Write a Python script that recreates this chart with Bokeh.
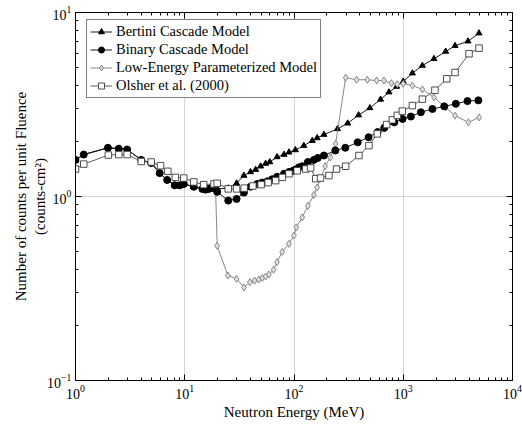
from bokeh.plotting import figure
from bokeh.models import (Range1d, LogAxis, FixedTicker, Legend, LegendItem,
                          CustomJSTickFormatter, LogTickFormatter)
from bokeh.embed import file_html
from bokeh.resources import INLINE

# ---- data ----
bertini_e = [1.0, 1.19, 1.98, 2.49, 2.97, 4.0, 4.93, 5.9, 6.9, 8.1, 9.0, 9.8, 12.1, 14.5, 15.5,
             16.6, 18.5, 19.8, 25, 29.8, 34.8, 40, 44.5, 49.5, 55, 60, 70, 81, 90, 103, 123,
             147, 163, 188, 250, 310, 390, 495, 620, 740, 870, 1000, 1212, 1496, 1910, 2445,
             2980, 3915, 4935]
bertini_v = [1.58, 1.69, 1.84, 1.82, 1.80, 1.58, 1.52, 1.34, 1.23, 1.15, 1.15, 1.17, 1.13, 1.10, 1.09,
             1.10, 1.11, 1.10, 1.11, 1.18, 1.30, 1.36, 1.40, 1.46, 1.51, 1.54, 1.64, 1.69, 1.74, 1.79, 1.89,
             2.01, 2.08, 2.17, 2.33, 2.50, 2.77, 3.03, 3.37, 3.69, 3.96, 4.22, 4.68, 5.15, 5.60, 6.14,
             6.59, 6.98, 7.72]

binary_e = [1.0, 1.19, 1.98, 2.49, 2.97, 4.0, 4.93, 5.9, 6.9, 8.1, 9.0, 9.8, 12.1, 14.5, 15.5,
            16.6, 18.5, 19.8, 25, 29.8, 34.8, 40, 46, 51, 57, 63, 70, 81, 90, 98, 103, 111, 119,
            134, 152, 165, 188, 239, 295, 383, 482, 583, 670, 828, 986, 1175, 1450, 1850, 2370,
            3030, 3870, 4870]
binary_v = [1.58, 1.69, 1.84, 1.82, 1.80, 1.58, 1.52, 1.34, 1.23, 1.15, 1.15, 1.17, 1.13, 1.10, 1.09,
            1.10, 1.11, 1.06, 0.95, 0.97, 1.05, 1.13, 1.17, 1.19, 1.21, 1.24, 1.28, 1.33, 1.36, 1.38, 1.40, 1.44, 1.46,
            1.54, 1.58, 1.62, 1.67, 1.78, 1.84, 1.97, 2.10, 2.24, 2.36, 2.53, 2.64, 2.72, 2.87, 2.99, 3.09,
            3.19, 3.30, 3.33]

lowe_e = [1.0, 1.19, 1.98, 2.49, 2.97, 4.0, 4.93, 5.9, 6.9, 8.1, 9.0, 9.8, 12.1, 14.5, 15.5,
          16.6, 18.5, 19.1, 19.8, 24.8, 29.8, 34.8, 39.5, 43.6, 47.7, 51.3, 55, 59, 65, 70, 78, 90,
          100, 105, 119, 134, 152, 163, 175, 193, 215, 240, 297, 374, 469, 571, 666, 778, 883,
          1000, 1212, 1496, 1910, 2445, 2980, 3950, 4950]
lowe_v = [1.58, 1.69, 1.84, 1.82, 1.80, 1.58, 1.52, 1.34, 1.23, 1.15, 1.15, 1.17, 1.13, 1.10, 1.09,
          1.10, 1.11, 1.17, 0.54, 0.372, 0.357, 0.321, 0.342, 0.349, 0.354, 0.361, 0.367, 0.377, 0.40, 0.44, 0.50, 0.553,
          0.614, 0.68, 0.77, 0.89, 1.02, 1.12, 1.25, 1.46, 1.63, 1.93, 4.42, 4.31, 4.31, 4.27, 4.27, 4.13, 4.08,
          4.10, 4.01, 3.82, 3.46, 3.05, 2.75, 2.53, 2.69]

olsher_e = [1.0, 1.19, 2.0, 2.49, 2.97, 4.0, 4.93, 6.0, 7.0, 8.2, 9.8, 12.1, 14.9, 18.5, 19.8,
            25, 29.8, 35, 42, 50, 58, 68, 78, 90, 107, 128, 142, 158, 175, 209, 245, 297, 393,
            485, 579, 705, 795, 883, 981, 1212, 1496, 1950, 2500, 2980, 4000, 4935]
olsher_v = [1.41, 1.50, 1.68, 1.69, 1.69, 1.55, 1.54, 1.47, 1.37, 1.27, 1.26, 1.20, 1.16, 1.17, 1.18,
            1.10, 1.10, 1.11, 1.14, 1.16, 1.19, 1.22, 1.27, 1.33, 1.38, 1.41, 1.43, 1.25, 1.26, 1.30, 1.41, 1.46, 1.67,
            1.89, 2.19, 2.46, 2.61, 2.76, 2.91, 3.12, 3.38, 3.78, 4.36, 4.72, 5.97, 6.40]

labels = ["Bertini Cascade Model", "Binary Cascade Model",
          "Low-Energy Parameterized Model", "Olsher et al. (2000)"]

x_decades = [0, 1, 2, 3, 4]
y_decades = [-1, 0, 1]

FONT = "Liberation Serif"


def decade_ticker(decs):
    majors = [10.0 ** d for d in decs]
    minors = [k * 10.0 ** d for d in decs[:-1] for k in range(2, 10)]
    return FixedTicker(ticks=majors, minor_ticks=minors)


p = figure(width=522, height=424, x_axis_type="log", y_axis_type="log",
           x_range=Range1d(1, 1e4), y_range=Range1d(0.1, 10),
           output_backend="svg", toolbar_location=None,
           min_border_left=75, min_border_right=10, min_border_top=12, min_border_bottom=44)
p.background_fill_color = "white"
p.border_fill_color = "white"
p.outline_line_color = "black"
p.outline_line_width = 1

p.xaxis.ticker = decade_ticker(x_decades)
p.yaxis.ticker = decade_ticker(y_decades)
p.yaxis.formatter = LogTickFormatter()
p.xaxis.formatter = LogTickFormatter()

# grids
for g in (p.xgrid, p.ygrid):
    g.grid_line_color = "#d4d4d4"
    g.grid_line_width = 1
    g.minor_grid_line_color = None
p.xgrid.ticker = decade_ticker(x_decades)
p.ygrid.ticker = decade_ticker(y_decades)

# main axes
p.xaxis.axis_label = "Neutron Energy (MeV)"
p.yaxis.axis_label = "Number of counts per unit Fluence\n(counts-cm²)"
for ax in (p.xaxis[0], p.yaxis[0]):
    ax.axis_label_text_font = FONT
    ax.axis_label_text_font_style = "normal"
    ax.axis_label_text_font_size = "15px"
    ax.axis_label_text_color = "black"
    ax.major_label_text_font = FONT
    ax.major_label_text_font_size = "14px"
    ax.major_label_text_color = "black"
    ax.axis_line_color = "black"
    ax.major_tick_in = 6
    ax.major_tick_out = 0
    ax.minor_tick_in = 3
    ax.minor_tick_out = 0
    ax.major_tick_line_color = "black"
    ax.minor_tick_line_color = "black"
p.xaxis.axis_label_standoff = 2
p.yaxis.axis_label_standoff = -4
p.xaxis.major_label_standoff = 4
p.yaxis.major_label_standoff = 4

# top / right tick-only axes
blank = CustomJSTickFormatter(code="return ''")
top = LogAxis(ticker=decade_ticker(x_decades), formatter=blank, major_tick_in=6, major_tick_out=0,
              minor_tick_in=3, minor_tick_out=0, axis_line_color="black",
              major_label_text_font_size="1px", major_label_standoff=0)
right = LogAxis(ticker=decade_ticker(y_decades), formatter=blank, major_tick_in=6, major_tick_out=0,
                minor_tick_in=3, minor_tick_out=0, axis_line_color="black",
                major_label_text_font_size="1px", major_label_standoff=0)
p.add_layout(top, "above")
p.add_layout(right, "right")

# series
r_b_line = p.line(bertini_e, bertini_v, line_color="black", line_width=0.9)
r_b_pts = p.scatter(bertini_e, bertini_v, marker="triangle", size=6,
                    fill_color="black", line_color="black")

r_l_line = p.line(lowe_e, lowe_v, line_color="#7a7a7a", line_width=0.9)
r_l_pts = p.scatter(lowe_e, lowe_v, marker="diamond", size=7,
                    fill_color="#e0e0e0", line_color="#7a7a7a", line_width=0.9)

r_n_line = p.line(binary_e, binary_v, line_color="black", line_width=0.9)
r_n_pts = p.scatter(binary_e, binary_v, marker="circle", size=7,
                    fill_color="black", line_color="black")

r_o_line = p.line(olsher_e, olsher_v, line_color="#4a4a4a", line_width=0.9)
r_o_pts = p.scatter(olsher_e, olsher_v, marker="square", size=6.5,
                    fill_color="white", line_color="#3a3a3a", line_width=0.9)

legend = Legend(items=[
    LegendItem(label=labels[0], renderers=[r_b_line, r_b_pts]),
    LegendItem(label=labels[1], renderers=[r_n_line, r_n_pts]),
    LegendItem(label=labels[2], renderers=[r_l_line, r_l_pts]),
    LegendItem(label=labels[3], renderers=[r_o_line, r_o_pts]),
], location=(11, 282))
legend.label_text_font = FONT
legend.label_text_font_size = "14.5px"
legend.label_text_color = "black"
legend.glyph_width = 22
legend.glyph_height = 15
legend.label_height = 15
legend.label_standoff = 4
legend.spacing = 1
legend.padding = 3
legend.margin = 0
legend.border_line_color = "black"
legend.border_line_width = 1
legend.background_fill_color = "white"
legend.background_fill_alpha = 1
p.add_layout(legend, "center")

open("out.html", "w").write(file_html(p, INLINE))
